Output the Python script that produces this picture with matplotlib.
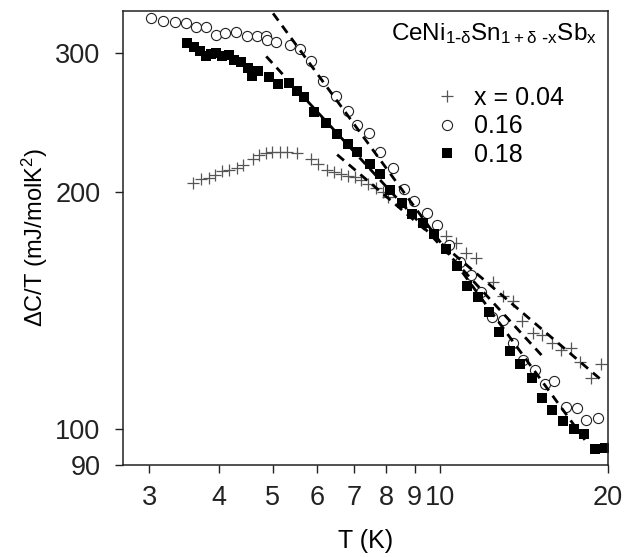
# Specific heat DeltaC/T vs T for CeNi(1-d)Sn(1+d-x)Sb(x), log-log
import matplotlib
matplotlib.use("Agg")
import matplotlib.pyplot as plt
from matplotlib.lines import Line2D
from matplotlib.ticker import FixedLocator, FixedFormatter, NullLocator

plt.rcParams['font.family'] = ['Liberation Sans', 'DejaVu Sans']
plt.rcParams['mathtext.default'] = 'regular'

# x = 0.04 (plus)
T_004 = [3.60, 3.72, 3.84, 3.94, 4.05, 4.18, 4.31, 4.42, 4.62, 4.73, 4.86, 4.99,
         5.15, 5.31, 5.53, 5.85, 6.04, 6.25, 6.44, 6.63, 6.84, 7.04, 7.22, 7.41,
         7.66, 7.88, 8.07, 10.23, 10.68, 11.14, 11.59, 12.43, 12.96, 13.49, 14.04,
         14.66, 15.22, 15.85, 16.45, 17.16, 17.80, 18.67, 19.48]
C_004 = [205.0, 207.4, 208.0, 209.9, 212.3, 212.9, 214.2, 216.0, 220.3, 222.4, 223.7, 224.4,
         224.4, 224.4, 223.7, 220.3, 217.2, 212.9, 211.7, 210.5, 209.2, 208.6, 206.8, 204.4,
         202.5, 200.1, 197.2, 176.0, 172.4, 167.4, 165.0, 153.8, 147.6, 145.5, 137.2,
         132.5, 131.7, 128.6, 126.1, 126.8, 121.8, 116.2, 120.9]

# x = 0.16 (open circle)
T_016 = [3.03, 3.18, 3.34, 3.50, 3.64, 3.79, 3.96, 4.10, 4.29, 4.49, 4.68, 4.86,
         4.88, 5.08, 5.37, 5.60, 5.87, 6.17, 6.49, 6.82, 7.10, 7.44, 7.81, 8.21,
         8.60, 8.98, 9.45, 9.88, 10.36, 10.86, 11.36, 11.86, 12.37, 12.96, 13.49,
         14.11, 14.79, 15.41, 16.03, 16.80, 17.57, 18.31, 19.17]
C_016 = [332.0, 329.0, 328.0, 327.0, 324.0, 324.0, 316.0, 317.7, 318.6, 315.0, 315.0, 315.0,
         311.4, 309.5, 306.8, 303.2, 292.8, 276.1, 264.3, 253.0, 242.8, 237.2, 224.4, 214.2,
         201.9, 194.9, 188.2, 181.7, 171.4, 163.1, 157.0, 149.3, 138.8, 137.6, 128.6,
         122.4, 118.9, 114.2, 114.9, 106.7, 106.4, 102.8, 103.4]

# x = 0.18 (filled square)
T_018 = [3.51, 3.61, 3.71, 3.79, 3.88, 3.96, 4.06, 4.18, 4.27, 4.38, 4.51, 4.60,
         4.71, 4.92, 5.12, 5.35, 5.53, 5.69, 5.94, 6.23, 6.52, 6.82, 7.10, 7.47,
         7.81, 8.14, 8.53, 8.91, 9.33, 9.73, 10.23, 10.73, 11.18, 11.68, 12.21,
         12.75, 13.33, 13.92, 14.59, 15.22, 15.90, 16.59, 17.36, 18.15, 18.94, 19.73]
C_018 = [308.6, 305.0, 301.4, 297.0, 298.7, 299.6, 297.0, 297.9, 293.6, 291.9, 286.9, 280.1,
         284.3, 279.3, 273.8, 274.6, 268.2, 263.5, 252.3, 244.2, 236.5, 229.8, 224.4, 216.6,
         210.5, 201.3, 193.8, 187.6, 182.8, 177.0, 169.4, 161.2, 152.0, 147.2, 140.8,
         132.9, 125.7, 121.0, 116.2, 109.5, 105.8, 102.4, 100.0, 98.6, 94.2, 94.7]

# power-law fits (dashed), end points
fit_T = [[5.01, 18.30], [4.87, 15.25], [6.53, 19.53]]
fit_C = [[336.8, 96.3], [297.0, 123.8], [222.9, 115.2]]

xticks = [3, 4, 5, 6, 7, 8, 9, 10, 20]
yticks = [90, 100, 200, 300]

fig = plt.figure(figsize=(6.26, 5.57), dpi=100)
ax = fig.add_axes([0.196, 0.165, 0.775, 0.815])

ax.plot(T_004, C_004, ls='none', marker='+', ms=8.5, mew=0.9, color='#555555')
ax.plot(T_016, C_016, ls='none', marker='o', ms=7.3, mew=0.8, mfc='white', mec='#222222')
ax.plot(T_018, C_018, ls='none', marker='s', ms=7.8, mew=0, color='black')

for ft, fc in zip(fit_T, fit_C):
    ln, = ax.plot(ft, fc, color='black', lw=2.0, zorder=5)
    ln.set_dashes([3.2, 2.3])

ax.set_xscale('log')
ax.set_yscale('log')
ax.set_xlim(2.69, 20)
ax.set_ylim(90, 339)

ax.xaxis.set_major_locator(FixedLocator(xticks))
ax.xaxis.set_major_formatter(FixedFormatter([str(t) for t in xticks]))
ax.xaxis.set_minor_locator(NullLocator())
ax.yaxis.set_major_locator(FixedLocator(yticks))
ax.yaxis.set_major_formatter(FixedFormatter([str(t) for t in yticks]))
ax.yaxis.set_minor_locator(NullLocator())

ax.tick_params(axis='both', direction='out', length=6, width=1, colors='#222222', labelsize=19.5)
ax.tick_params(axis='x', pad=8)
ax.tick_params(axis='y', pad=10)
for s in ax.spines.values():
    s.set_linewidth(1.1)
    s.set_color('#222222')

ax.set_xlabel('T (K)', fontsize=18, labelpad=13)
ax.set_ylabel('ΔC/T (mJ/molK$^2$)', fontsize=17, labelpad=4)

ax.text(0.977, 0.936, r'CeNi$_{1\text{-}\delta}$Sn$_{1+\delta\ \text{-}x}$Sb$_x$',
        transform=ax.transAxes, ha='right', va='baseline', fontsize=17.5)

handles = [
    Line2D([], [], ls='none', marker='+', ms=8.5, mew=0.9, color='#555555'),
    Line2D([], [], ls='none', marker='o', ms=7.3, mew=0.8, mfc='white', mec='#222222'),
    Line2D([], [], ls='none', marker='s', ms=7.8, mew=0, color='black'),
]
ax.legend(handles, ['x = 0.04', '0.16', '0.18'], loc='upper left',
          bbox_to_anchor=(0.642, 0.836), frameon=False, fontsize=18,
          handlelength=1.0, handletextpad=0.6, labelspacing=0.19,
          borderpad=0, borderaxespad=0)

fig.savefig('out.png', dpi=100)
